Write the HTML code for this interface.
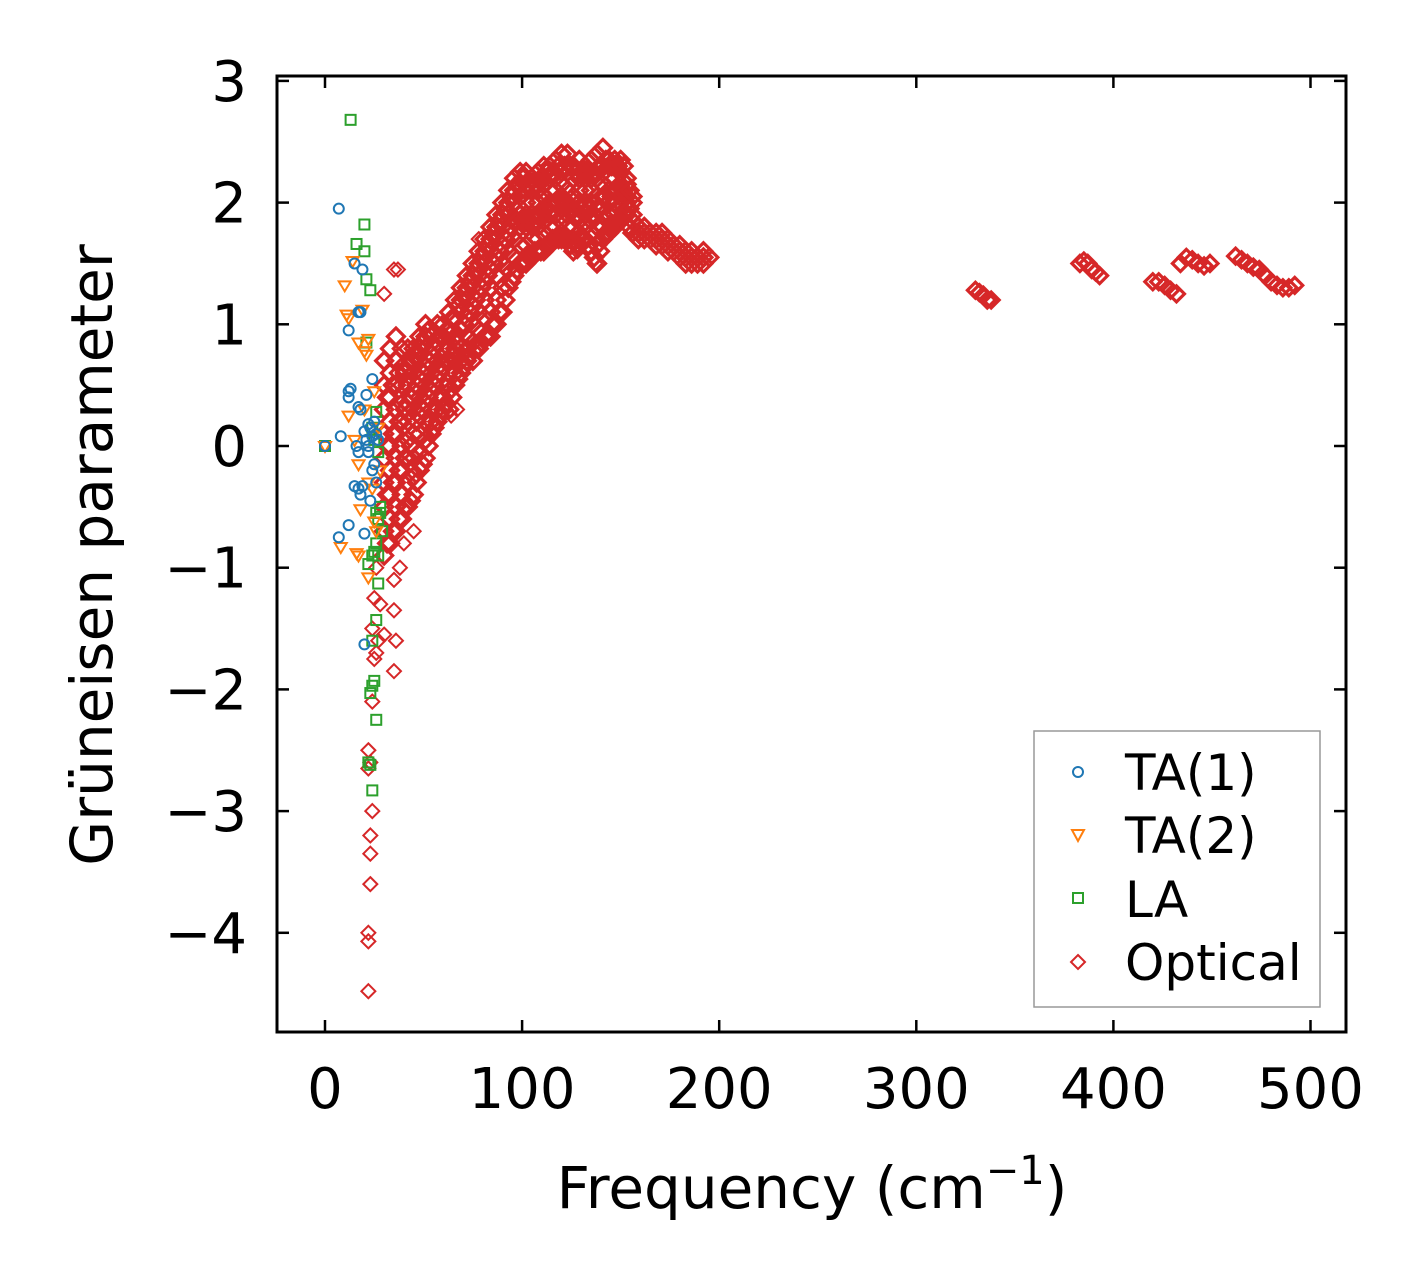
<!DOCTYPE html>
<html><head><meta charset="utf-8">
<style>
html,body{margin:0;padding:0;background:#fff;}
svg{display:block;font-family:"DejaVu Sans","Liberation Sans",sans-serif;}
</style></head>
<body>
<svg id="chart" width="1426" height="1281" viewBox="0 0 1426 1281" xmlns="http://www.w3.org/2000/svg">
<rect x="0" y="0" width="1426" height="1281" fill="#fff"/>
<g id="marks"></g>
<rect x="277" y="76" width="1069" height="956" fill="none" stroke="#000" stroke-width="3"/>
<g id="ticks"></g>
<text x="812" y="1208" font-size="58" text-anchor="middle">Frequency (cm<tspan dy="-24" font-size="40">−1</tspan><tspan dy="24">)</tspan></text>
<text transform="translate(112,555) rotate(-90)" font-size="58" text-anchor="middle">Grüneisen parameter</text>
<g>
<rect x="1034" y="731" width="286" height="276" fill="#fff" stroke="#999" stroke-width="1.5"/>
<circle cx="1078" cy="772" r="5" fill="none" stroke="#1f77b4" stroke-width="2"/>
<text x="1125" y="790" font-size="50">TA(1)</text>
<path d="M1072,830 L1084,830 L1078,841 Z" fill="none" stroke="#ff7f0e" stroke-width="2"/>
<text x="1125" y="853" font-size="50">TA(2)</text>
<rect x="1073" y="893" width="10" height="10" fill="none" stroke="#2ca02c" stroke-width="2"/>
<text x="1125" y="917" font-size="50">LA</text>
<path d="M1078,955 L1085,962 L1078,969 L1071,962 Z" fill="none" stroke="#d62728" stroke-width="2"/>
<text x="1125" y="980" font-size="50">Optical</text>
</g>
</svg>
<script>
const xTicks = [0,100,200,300,400,500];
const yTicks = [3,2,1,0,-1,-2,-3,-4];
const ta1 = [[0,0],[7,1.95],[8,0.08],[7,-0.75],[12,0.95],[12,0.45],[12,0.4],[13,0.47],[12,-0.65],[15,1.5],[17,1.1],[18,1.1],[19,1.45],[17,0.32],[18,0.3],[16,0],[17,-0.05],[15,-0.33],[17,-0.35],[19,-0.33],[20,-0.72],[20,0.12],[21,0.05],[22,0.18],[22,0],[23,0.15],[24,0.08],[25,-0.15],[26,0.1],[26,-0.3],[24,0.55],[21,0.42],[22,-0.05],[20,-1.63],[23,-0.45],[18,-0.4],[25,0.2],[27,0.05],[24,-0.2]];
const ta2 = [[0,0],[10,1.32],[11,1.08],[12,1.05],[12,0.25],[14,1.52],[17,0.85],[19,1.12],[20,0.78],[21,0.75],[22,0.88],[15,0.05],[17,-0.15],[18,-0.52],[16,-0.88],[17,-0.9],[8,-0.83],[20,0.3],[22,-0.3],[24,-0.35],[25,-0.62],[22,-1.08],[26,-0.7],[27,0.15],[25,0.45],[28,-0.2]];
const la = [[0,0],[13,2.68],[20,1.82],[16,1.66],[20,1.6],[21,1.37],[23,1.28],[21,0.85],[24,0.15],[25,0.05],[26,0.28],[27,-0.05],[28,-0.5],[27,-0.6],[26,-0.55],[28,-0.55],[24,-0.9],[25,-0.87],[22,-0.97],[27,-1.13],[26,-1.43],[24,-1.6],[25,-1.93],[23,-2.03],[24,-1.97],[26,-2.25],[22,-2.6],[24,-2.83],[23,-2.62],[27,-0.9],[29,-0.7],[26,-0.8]];
const opticalRows = [
[30,[-0.9,-0.7,-0.5,-0.3,-0.1,0.1,0.3,0.5,0.7]],[33,[-0.8,-0.6,-0.4,-0.2,0,0.2,0.4,0.6,0.8]],
[36,[-0.7,-0.5,-0.3,-0.1,0.1,0.3,0.5,0.7,0.9]],[39,[-0.6,-0.4,-0.2,0,0.2,0.35,0.5,0.65,0.8]],
[42,[-0.5,-0.3,-0.1,0.05,0.2,0.35,0.5,0.65,0.8]],[45,[-0.4,-0.25,-0.1,0.1,0.3,0.45,0.6,0.7,0.8]],
[48,[-0.2,-0.05,0.1,0.25,0.4,0.55,0.7,0.8,0.9]],[51,[-0.1,0.05,0.2,0.35,0.5,0.65,0.8,0.9,1.0]],
[54,[0.1,0.2,0.3,0.45,0.6,0.75,0.9]],[57,[0.2,0.3,0.4,0.55,0.7,0.85,1.0]],
[60,[0.3,0.4,0.5,0.65,0.8,0.9,1.0]],[63,[0.3,0.45,0.6,0.7,0.8,0.95,1.1]],
[66,[0.5,0.6,0.7,0.8,0.9,1.05,1.2]],[69,[0.6,0.7,0.8,0.95,1.1,1.2,1.3]],
[72,[0.7,0.8,0.9,1.05,1.2,1.3,1.4]],[75,[0.7,0.85,1.0,1.15,1.3,1.4,1.5]],
[78,[0.8,0.95,1.1,1.25,1.4,1.5,1.6]],[81,[0.9,1.05,1.2,1.35,1.5,1.6,1.7]],
[84,[0.9,1.1,1.3,1.45,1.6,1.7,1.8]],[87,[1.0,1.2,1.4,1.55,1.7,1.8,1.9]],
[90,[1.1,1.3,1.5,1.65,1.8,1.9,2.0]],[93,[1.3,1.45,1.6,1.75,1.9,2.0,2.1]],
[96,[1.4,1.55,1.7,1.85,2.0,2.1,2.2]],[99,[1.5,1.65,1.8,1.9,2.05,2.15,2.25]],
[102,[1.5,1.65,1.8,1.9,2.0,2.1,2.25]],[105,[1.55,1.7,1.8,1.9,2.0,2.1,2.2]],
[108,[1.6,1.7,1.8,1.9,2.0,2.1,2.25]],[111,[1.6,1.75,1.85,1.95,2.05,2.15,2.3]],
[114,[1.65,1.8,1.9,2.0,2.1,2.2,2.3]],[117,[1.7,1.8,1.9,2.0,2.1,2.2,2.35]],
[120,[1.7,1.85,1.95,2.05,2.15,2.25,2.4]],[123,[1.7,1.8,1.9,2.0,2.1,2.25,2.4]],
[126,[1.6,1.7,1.8,1.95,2.05,2.2,2.3]],[129,[1.65,1.75,1.85,2.0,2.1,2.2,2.35]],
[132,[1.7,1.8,1.9,2.0,2.1,2.2,2.3]],[135,[1.6,1.75,1.85,2.0,2.1,2.2,2.35]],
[138,[1.5,1.65,1.8,1.95,2.05,2.2,2.4]],[141,[1.7,1.8,1.9,2.05,2.15,2.3,2.45]],
[144,[1.75,1.9,2.0,2.1,2.2,2.3,2.35]],[147,[1.8,1.9,2.0,2.1,2.2,2.3,2.35]],
[150,[1.85,1.95,2.05,2.15,2.25,2.35]],[153,[1.9,2.0,2.05,2.15,2.2]],
[156,[1.75,1.85,1.9,2.0,2.05]],[159,[1.7,1.75,1.8]],[162,[1.7,1.75,1.8]],
[165,[1.7,1.75]],[168,[1.65,1.7,1.75]],[171,[1.65,1.7,1.75]],[174,[1.6,1.65,1.7]],
[177,[1.6,1.65]],[180,[1.55,1.6,1.65]],[183,[1.5,1.55,1.6]],[186,[1.5,1.55,1.6]],
[189,[1.5,1.55]],[192,[1.5,1.55,1.6]],[195,[1.55]],
[330,[1.28]],[332,[1.26]],[334,[1.24]],[336,[1.2]],[338,[1.2]],
[383,[1.5]],[385,[1.52]],[387,[1.5]],[389,[1.45]],[391,[1.43]],[393,[1.4]],
[420,[1.35]],[423,[1.35]],[426,[1.32]],[429,[1.28]],[432,[1.25]],[434,[1.5]],[437,[1.55]],[440,[1.53]],[443,[1.5]],[446,[1.48]],[449,[1.5]],
[462,[1.56]],[465,[1.53]],[468,[1.5]],[471,[1.47]],[474,[1.45]],[477,[1.4]],[480,[1.35]],[483,[1.32]],[486,[1.3]],[489,[1.3]],[492,[1.32]]
];
const opticalRowsB = [
[31.5,[-0.8,-0.4,0,0.4]],[34.5,[-0.7,-0.3,0.1,0.5]],[37.5,[-0.6,-0.2,0.2,0.6]],[40.5,[-0.5,-0.1,0.3,0.6]],
[43.5,[-0.45,0,0.4,0.7]],[46.5,[-0.3,0.2,0.5,0.75]],[49.5,[-0.15,0.3,0.6,0.85]],[52.5,[0,0.4,0.7,0.95]],
[55.5,[0.15,0.5,0.8]],[58.5,[0.25,0.6,0.9]],[61.5,[0.35,0.7,0.95]],[64.5,[0.4,0.75,1.05]],
[67.5,[0.55,0.85,1.15]],[70.5,[0.65,1.0,1.25]],[73.5,[0.75,1.1,1.35]],[76.5,[0.8,1.2,1.45]],
[79.5,[0.85,1.3,1.55]],[82.5,[0.9,1.4,1.65]],[85.5,[1.0,1.5,1.75]],[88.5,[1.1,1.6,1.85]],
[91.5,[1.2,1.7,1.95]],[94.5,[1.35,1.8,2.05]],[97.5,[1.45,1.85,2.15]],[100.5,[1.5,1.85,2.2]],
[103.5,[1.55,1.85,2.15]],[106.5,[1.6,1.85,2.15]],[109.5,[1.6,1.9,2.2]],[112.5,[1.65,1.95,2.25]],
[115.5,[1.7,1.95,2.25]],[118.5,[1.7,2.0,2.3]],[121.5,[1.7,2.0,2.3]],[124.5,[1.65,1.95,2.3]],
[127.5,[1.65,1.9,2.25]],[130.5,[1.7,1.95,2.25]],[133.5,[1.65,1.95,2.25]],[136.5,[1.55,1.9,2.25]],
[139.5,[1.6,1.95,2.3]],[142.5,[1.75,2.05,2.35]],[145.5,[1.8,2.05,2.3]],[148.5,[1.85,2.1,2.3]],
[151.5,[1.9,2.1,2.3]],[154.5,[1.8,1.95,2.1]]
];
const opticalOutliers = [[35,1.45],[37,1.45],[30,1.25],[35,-1.1],[38,-1.0],[40,-0.8],[45,-0.7],[35,-1.35],[36,-1.6],[35,-1.85],[30,-1.55],[28,-1.3],[27,-1.6],[25,-1.75],[26,-1.7],[24,-2.1],[22,-2.5],[23,-2.6],[22,-2.65],[24,-3.0],[23,-3.2],[23,-3.35],[23,-3.6],[22,-4.0],[22,-4.07],[22,-4.48],[24,-1.5],[25,-1.25],[26,-1.0],[128,1.6],[137,1.5],[78,1.7],[85,1.0],[64,0.25],[67,0.3],[57,0.2]];

const NS='http://www.w3.org/2000/svg';
function xs(v){return 325+v*1.971;}
function ys(v){return 446-v*121.7;}
const marks=document.getElementById('marks');
const ticks=document.getElementById('ticks');
function mk(tag,attrs,parent){const e=document.createElementNS(NS,tag);for(const k in attrs)e.setAttribute(k,attrs[k]);parent.appendChild(e);return e;}

function drawOptical(f,g,h,sw){
  const x=xs(f),y=ys(g);
  const e=mk('path',{d:`M${x},${y-h} L${x+h},${y} L${x},${y+h} L${x-h},${y} Z`,fill:'none',stroke:'#d62728','stroke-width':sw},marks);
  
  
}
opticalRows.forEach(r=>r[1].forEach(g=>drawOptical(r[0],g,r[0]<200?8.5:8,3.2)));
opticalRowsB.forEach(r=>r[1].forEach(g=>drawOptical(r[0],g,8.5,3.2)));
opticalOutliers.forEach(p=>drawOptical(p[0],p[1],7,2));
la.forEach(p=>{
  const e=mk('rect',{x:xs(p[0])-5,y:ys(p[1])-5,width:10,height:10,fill:'none',stroke:'#2ca02c','stroke-width':2},marks);
  
  
});
ta2.forEach(p=>{
  const x=xs(p[0]),y=ys(p[1]);
  const e=mk('path',{d:`M${x-6},${y-4} L${x+6},${y-4} L${x},${y+6} Z`,fill:'none',stroke:'#ff7f0e','stroke-width':2},marks);
  
  
});
ta1.forEach(p=>{
  const e=mk('circle',{cx:xs(p[0]),cy:ys(p[1]),r:5,fill:'none',stroke:'#1f77b4','stroke-width':2},marks);
  
  
});
xTicks.forEach(t=>{
  const x=xs(t);
  mk('line',{x1:x,y1:1032,x2:x,y2:1020,stroke:'#000','stroke-width':2.5},ticks);
  mk('line',{x1:x,y1:76,x2:x,y2:88,stroke:'#000','stroke-width':2.5},ticks);
  const l=mk('text',{x:x,y:1108,'font-size':56,'text-anchor':'middle'},ticks);
  l.textContent=String(t);
  
  
});
yTicks.forEach(t=>{
  const y=ys(t);
  mk('line',{x1:277,y1:y,x2:289,y2:y,stroke:'#000','stroke-width':2.5},ticks);
  mk('line',{x1:1346,y1:y,x2:1334,y2:y,stroke:'#000','stroke-width':2.5},ticks);
  const l=mk('text',{x:247,y:y+20,'font-size':56,'text-anchor':'end'},ticks);
  l.textContent=(t<0?'−'+Math.abs(t):String(t));
  
  
});
</script>
</body></html>
